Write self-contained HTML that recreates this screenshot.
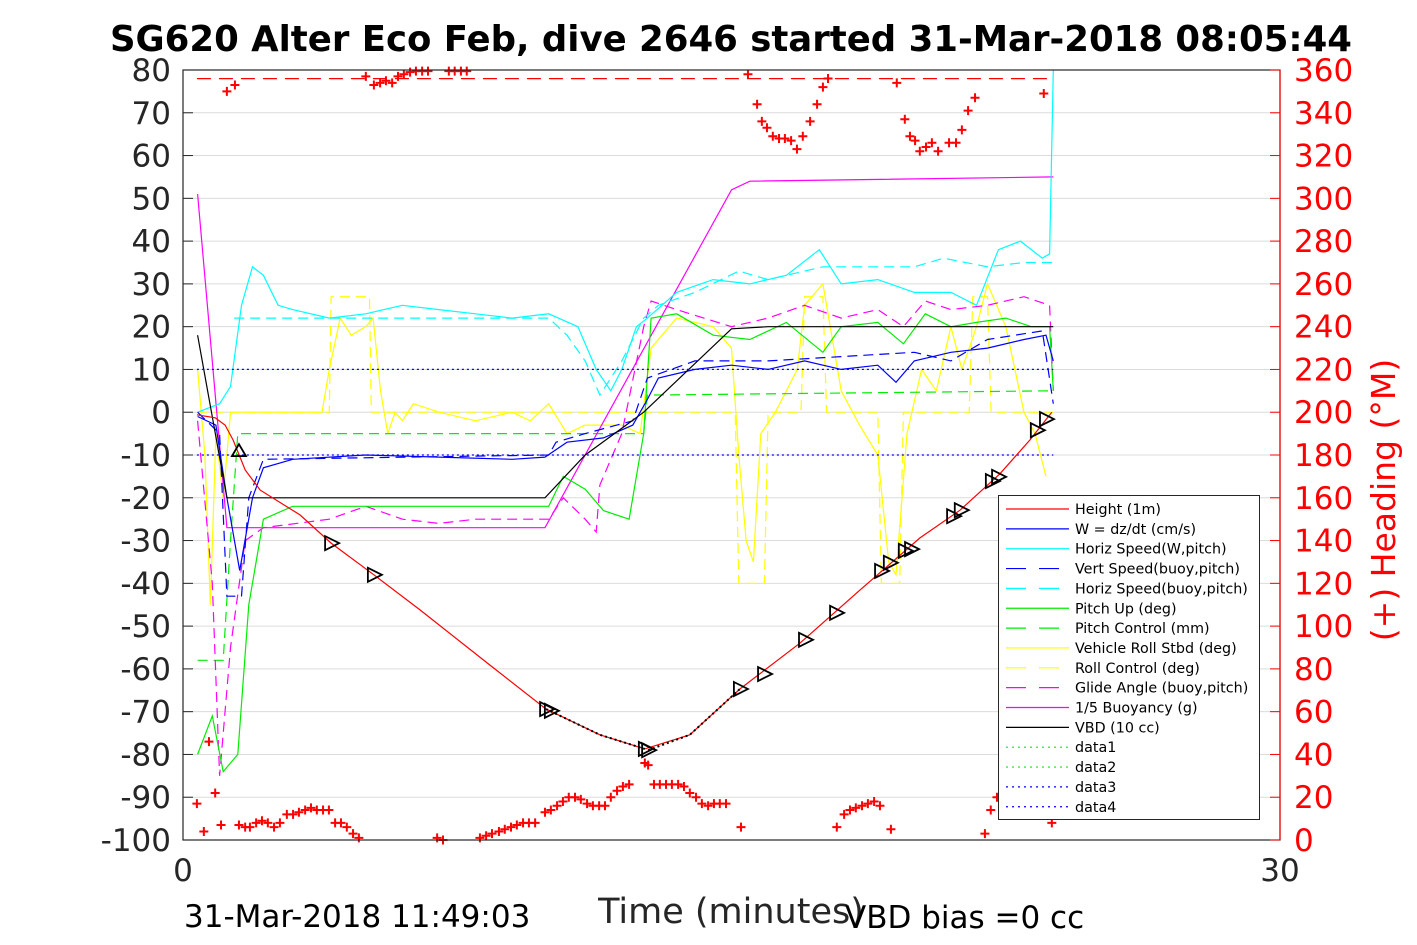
<!DOCTYPE html>
<html><head><meta charset="utf-8"><style>
body{margin:0;background:#fff;}
svg{display:block;font-family:"DejaVu Sans","Liberation Sans",sans-serif;}
</style></head><body>
<svg id="chart" width="1417" height="945" viewBox="0 0 1417 945">
<text x="731" y="51" text-anchor="middle" font-size="35.5" font-weight="bold">SG620 Alter Eco Feb, dive 2646 started 31-Mar-2018 08:05:44</text>
<g id="grid"></g>
<g id="series"></g>
<g id="axes"></g>
<g id="legend"></g>
<text x="184" y="927" font-size="31">31-Mar-2018 11:49:03</text>
<text x="731" y="923" text-anchor="middle" font-size="35" fill="#262626">Time (minutes)</text>
<text x="845" y="928" font-size="31">VBD bias =0 cc</text>
<text transform="translate(1395,500) rotate(-90)" text-anchor="middle" font-size="33" fill="#ff0000">(+) Heading (°M)</text>
</svg>
<script>
const NS="http://www.w3.org/2000/svg";
// ---- data ----
const leftTicks=[80,70,60,50,40,30,20,10,0,-10,-20,-30,-40,-50,-60,-70,-80,-90,-100];
const rightTicks=[360,340,320,300,280,260,240,220,200,180,160,140,120,100,80,60,40,20,0];
const xTicks=[0,30];
const heightT=[0.38,0.88,1.15,1.37,1.7,2.11,3.2,4.05,5.22,6.48,8.39,9.93,11.4,12.63,13.86,15.23,16.87,18.51,20.15,21.25,22.34,23.16,23.76];
const heightV=[-0.6,-1.3,-3,-6.5,-13.5,-18.2,-24,-30.6,-38,-46.2,-59.1,-69.4,-75.4,-78.7,-75.4,-64.7,-54,-41.6,-29.4,-22.9,-14.4,-6.5,0];
const markT=[1.53,4.05,5.22,9.93,10.06,12.63,12.72,15.23,15.89,17.01,17.86,19.09,19.33,19.74,19.91,21.06,21.27,22.12,22.29,23.35,23.6];
const markV=[-9.1,-30.6,-38,-69.4,-69.8,-78.7,-79,-64.7,-61.2,-53.2,-46.9,-37.1,-35.2,-32.4,-32,-24.3,-22.9,-16.1,-15.1,-4.2,-1.6];
const wT=[0.4,0.9,1.2,1.55,1.9,2.2,3,5,7,9,9.9,10.5,11.5,12.3,12.7,13,14,15,16,17,18,19,19.5,20,21,22,23,23.6,23.8];
const wV=[-1,-3,-20,-37,-20,-13,-11,-10,-10.5,-11,-10.5,-7,-6,-3,3,8,10,11,10,12,10,11,7,12,14,15,17,18,12];
const hsT=[0.4,1,1.3,1.6,1.9,2.2,2.6,3,4,5,6,7,8,9,10,10.8,11.3,11.7,12,12.4,12.7,13.5,14.5,15.5,16.5,17.4,18,19,20,21,21.7,22.3,22.9,23.5,23.7,23.8];
const hsV=[0,2,6,25,34,32,25,24,22,23,25,24,23,22,23,20,10,5,10,20,22,28,31,30,32,38,30,31,28,28,25,38,40,36,37,80];
const vsT=[0.4,1.0,1.2,1.6,1.8,2.2,10,10.2,11,12.3,12.7,14,16,18,20,21,22,23.5,23.8];
const vsV=[0,-5,-43,-43,-20,-11,-10,-7,-5,-2,8,12,12,13,14,12,17,19,2];
const hbT=[1.4,2,10,10.5,11,11.4,12,12.6,13,14,15.2,16,17.5,18.5,20,20.8,22,23,23.8];
const hbV=[22,22,22,18,12,4,12,22,25,28,33,31,34,34,34,36,34,35,35];
const pitchT=[0.4,0.8,1.1,1.5,1.8,2.2,3,5,7,9,10,10.4,11,11.5,12.2,12.6,12.8,13.5,14.5,15.5,16.5,17.5,18,19,19.7,20.3,21,21.7,22.5,23.2,23.7,23.8];
const pitchV=[-80,-71,-84,-80,-45,-25,-22,-22,-22,-22,-22,-15,-18,-23,-25,-5,22,23,18,17,21,14,20,21,16,23,20,21,22,20,20,5];
const pcT=[0.4,1.1,1.3,1.5,12.6,12.7,23.8];
const pcV=[-58,-58,-30,-5,-5,4,5];
const rollT=[0.4,0.6,0.75,0.9,1.1,1.3,3.8,4.0,4.3,4.6,5.0,5.2,5.4,5.6,5.8,6,6.3,7,8,9,9.5,10,10.5,11,12,12.5,12.8,13.5,14.5,15,15.2,15.4,15.6,15.8,16.2,16.8,17,17.5,17.8,18,18.5,19,19.3,19.5,19.8,20.2,20.6,21,21.3,21.7,22,22.5,23,23.3,23.6];
const rollV=[10,-10,-45,-5,-20,0,0,10,22,18,20,22,5,-5,0,-2,2,0,-2,0,-2,2,-5,-3,-3,-5,15,22,20,15,-10,-30,-35,-5,0,10,25,30,15,5,-3,-10,-35,-38,-5,10,5,20,10,20,30,20,0,-5,-15];
const rcT=[0.4,4.0,4.05,5.1,5.15,15.1,15.2,15.9,16,16.9,17,17.5,17.6,19.0,19.1,19.6,19.7,21.5,21.6,22,22.1,23.8];
const rcV=[0,0,27,27,0,0,-40,-40,0,0,27,27,0,0,-40,-40,0,0,27,27,0,0];
const glideT=[0.4,0.8,1.0,1.3,1.7,2.2,4,5,6,7,8,9,10,10.4,11,11.3,11.4,12,12.6,12.8,13.5,15,16,17,18,19,19.7,20.3,21,22,23,23.7,23.8];
const glideV=[-2,-40,-85,-55,-30,-27,-25,-22,-25,-26,-25,-25,-25,-20,-25,-28,-17,-5,20,26,24,20,22,25,22,24,20,26,24,25,27,25,5];
const buoyT=[0.4,1.2,9.9,15,15.5,23.8];
const buoyV=[51,-27,-27,52,54,55];
const vbdT=[0.4,1.2,9.9,11,12.6,15,16,23.8];
const vbdV=[18,-20,-20,-10,0,19.5,20,20];
const headT=[0.38,0.57,0.71,0.88,1.04,1.2,1.42,1.53,1.7,1.83,2.0,2.16,2.32,2.49,2.65,2.84,3.01,3.17,3.34,3.5,3.66,3.83,3.99,4.16,4.32,4.48,4.65,4.81,5.0,5.22,5.39,5.55,5.72,5.88,6.04,6.21,6.37,6.54,6.7,6.95,7.11,7.27,7.43,7.6,7.76,8.12,8.29,8.45,8.64,8.8,8.97,9.13,9.3,9.46,9.63,9.9,10.06,10.23,10.39,10.55,10.72,10.88,11.05,11.21,11.38,11.54,11.7,11.87,12.03,12.2,12.63,12.72,12.88,13.04,13.21,13.37,13.54,13.7,13.86,14.03,14.19,14.36,14.52,14.68,14.85,15.26,15.45,15.7,15.83,15.97,16.13,16.3,16.46,16.63,16.79,16.95,17.15,17.34,17.5,17.64,17.88,18.08,18.24,18.4,18.57,18.73,18.9,19.06,19.36,19.52,19.74,19.88,20.02,20.15,20.32,20.48,20.65,20.95,21.14,21.3,21.47,21.66,21.93,22.09,22.26,23.54,23.76];
const headV=[17,4,46,22,7,350,353,7,6,6,8,9,8,6,8,12,12,13,14,15,14,14,14,8,8,6,3,1,357,353,354,355,354,357,358,359,359.5,359.5,359.5,1,0,359.5,359.5,359.5,359.5,1,2,3,4,5,6,7,8,8,8,13,14,16,18,20,20,19,17,16,16,16,20,23,25,26,36,35,26,26,26,26,26,25,22,20,17,16,17,17,17,6,358,344,336,333,329,328,328,327,323,329,336,344,352,356,6,12,14,15,16,17,18,16,5,354,337,329,327,322,324,326,322,326,326,332,341,347,3,14,20,349,8];
// ---- scales ----
const X0=183,X1=1280,YT=70,YB=840;
const X=t=>X0+t*(X1-X0)/30;
const Y=v=>YT+(80-v)*(YB-YT)/180;
const YR=h=>YB-h*(YB-YT)/360;
function mk(tag,attrs,parent){const e=document.createElementNS(NS,tag);for(const k in attrs)e.setAttribute(k,attrs[k]);parent.appendChild(e);return e;}
const grid=document.getElementById('grid'),ser=document.getElementById('series'),axes=document.getElementById('axes'),leg=document.getElementById('legend');
mk('rect',{x:X0,y:YT,width:X1-X0,height:YB-YT,fill:'#fff'},grid);
leftTicks.forEach(v=>{const l=mk('line',{x1:X0,x2:X1,y1:Y(v),y2:Y(v),stroke:'#dcdcdc','stroke-width':1},grid);

});
function line(ts,vs,color,dash,name,sw){const pts=ts.map((t,i)=>X(t).toFixed(1)+','+Y(vs[i]).toFixed(1)).join(' ');
const p=mk('polyline',{points:pts,fill:'none',stroke:color,'stroke-width':sw||1.2},ser);if(dash)p.setAttribute('stroke-dasharray',dash);

return p;}
line(rollT,rollV,'#ffff00',null,'vehicle-roll-line');
line(rcT,rcV,'#ffff00','10 6','roll-control-line');
line(pcT,pcV,'#00ee00','10 6','pitch-control-line');
line(buoyT,buoyV,'#ff00ff',null,'buoyancy-line');
line(glideT,glideV,'#ff00ff','10 6','glide-angle-line');
line(hbT,hbV,'#00ffff','10 6','horiz-speed-buoy-line');
line(hsT,hsV,'#00ffff',null,'horiz-speed-line');
line(pitchT,pitchV,'#00ee00',null,'pitch-up-line');
line(vsT,vsV,'#0000ff','10 6','vert-speed-buoy-line');
line(wT,wV,'#0000ff',null,'w-line');
line(vbdT,vbdV,'#000',null,'vbd-line');
line([0.38,23.8],[78,78],'#ff0000','14 8','heading-reference-line');
line([0.38,23.8],[10,10],'#0000ff','2 3','data3-line');
line([0.38,23.8],[-10,-10],'#0000ff','2 3','data4-line');
line(heightT,heightV,'#ff0000',null,'height-line');
[[9.93,12.63],[12.72,15.23]].forEach(([a,b])=>{const ts=[a],vs=[markV[markT.indexOf(a)]];heightT.forEach((t,i)=>{if(t>a&&t<b){ts.push(t);vs.push(heightV[i]);}});ts.push(b);vs.push(markV[markT.indexOf(b)]);
line(ts,vs,'#000','2 3','glide-segment-dotted',2);});
headV.forEach((h,i)=>{const x=X(headT[i]),y=YR(h);const p=mk('path',{d:`M${x-4.5},${y}H${x+4.5}M${x},${y-4.5}V${y+4.5}`,stroke:'#ff0000','stroke-width':2},ser);

});
markT.forEach((t,i)=>{const x=X(t),y=Y(markV[i]);let d;
if(i===0)d=`M${x-7},${y+5}L${x+7},${y+5}L${x},${y-7}Z`;else d=`M${x-6},${y-7}L${x+8},${y}L${x-6},${y+7}Z`;
const p=mk('path',{d:d,fill:'none',stroke:'#000','stroke-width':1.8},ser);

});
mk('rect',{x:X0,y:YT,width:X1-X0,height:YB-YT,fill:'none',stroke:'#262626','stroke-width':1.2},axes);
leftTicks.forEach(v=>{mk('line',{x1:X0,x2:X0+10,y1:Y(v),y2:Y(v),stroke:'#262626'},axes);
const t=mk('text',{x:X0-12,y:Y(v)+11,'text-anchor':'end','font-size':31,fill:'#262626'},axes);t.textContent=v;

});
rightTicks.forEach(h=>{mk('line',{x1:X1-10,x2:X1,y1:YR(h),y2:YR(h),stroke:'#ff0000'},axes);
const t=mk('text',{x:X1+14,y:YR(h)+11,'font-size':31,fill:'#ff0000'},axes);t.textContent=h;

});
xTicks.forEach(v=>{const t=mk('text',{x:X(v),y:881,'text-anchor':'middle','font-size':31,fill:'#262626'},axes);t.textContent=v;

});
mk('line',{x1:X1,x2:X1,y1:YT,y2:YB,stroke:'#ff0000','stroke-width':1.2},axes);
const labels=['Height (1m)','W = dz/dt (cm/s)','Horiz Speed(W,pitch)','Vert Speed(buoy,pitch)','Horiz Speed(buoy,pitch)','Pitch Up (deg)','Pitch Control (mm)','Vehicle Roll Stbd (deg)','Roll Control (deg)','Glide Angle (buoy,pitch)','1/5 Buoyancy (g)','VBD (10 cc)','data1','data2','data3','data4'];
const lcol=['#ff0000','#0000ff','#00ffff','#0000ff','#00ffff','#00ee00','#00ee00','#ffff00','#ffff00','#ff00ff','#ff00ff','#000','#00ee00','#00ee00','#0000ff','#0000ff'];
const ldash=[null,null,null,'20 13','20 13',null,'20 13',null,'20 13','20 13',null,null,'2 4','2 4','2 4','2 4'];
const lb=mk('rect',{x:998.5,y:495.5,width:261,height:324,fill:'#fff',stroke:'#262626','stroke-width':1},leg);


labels.forEach((s,i)=>{const y=509+i*19.85;const l=mk('line',{x1:1006,x2:1069,y1:y,y2:y,stroke:lcol[i],'stroke-width':1.2},leg);if(ldash[i])l.setAttribute('stroke-dasharray',ldash[i]);
const t=mk('text',{x:1075,y:y+5,'font-size':14.3,fill:'#000'},leg);t.textContent=s;

});
</script>
</body></html>
